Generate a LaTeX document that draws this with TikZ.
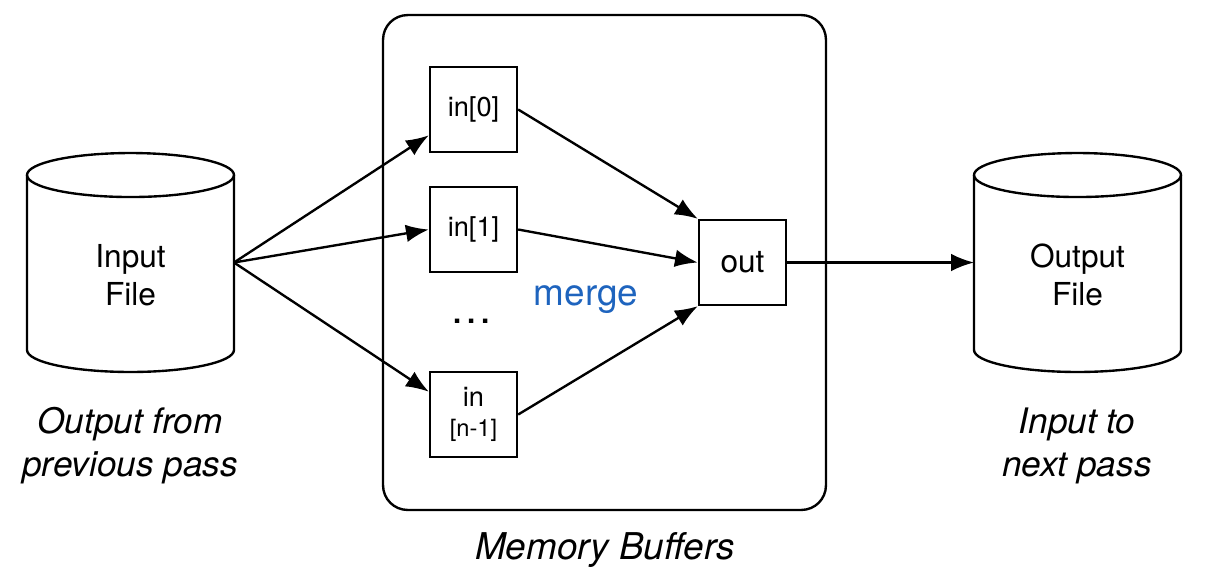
\documentclass[tikz,border=0pt]{standalone}
\usepackage{fontspec}
\setmainfont{TeX Gyre Heros}
\usetikzlibrary{arrows.meta}
\definecolor{mergeblue}{RGB}{30,100,190}
\tikzset{
  buf/.style={draw, line width=1.35pt, minimum width=1.74cm, minimum height=1.7cm, inner sep=0pt, align=center, font=\fontsize{15.5}{18}\selectfont},
  disk/.style={minimum width=4.14cm, minimum height=4.38cm, inner sep=0pt, outer sep=0pt},
  disktext/.style={align=center, font=\fontsize{18}{21.6}\selectfont},
  note/.style={align=center, font=\fontsize{20}{24.5}\selectfont\itshape},
  flow/.style={->, line width=1.35pt}
}
\begin{document}
\begin{tikzpicture}[>={Latex[length=13pt,width=10pt]}, x=0.02cm, y=-0.02cm]
	\useasboundingbox (0,0) rectangle (1206,586);

	% memory buffers
	\node[draw, line width=1.35pt, rounded corners=14pt, minimum width=8.86cm, minimum height=9.9cm] (mem) at (604.5,262.5) {};
	\node[note, font=\fontsize{21}{25}\selectfont\itshape] (memlbl) at (605,550) {Memory Buffers};

	\node[buf] (in0) at (473.5,109.5) {in[0]};
	\node[buf] (in1) at (473.5,229.5) {in[1]};
	\node[buf] (inN) at (473.5,414.5) {in\\[-1pt]{\fontsize{13.5}{16}\selectfont [n-1]}};
	\node[buf, font=\fontsize{18}{21}\selectfont] (out) at (742.5,262.5) {out};

	\node[font=\fontsize{24}{28}\selectfont] (dots) at (472,321) {…};
	\node[text=mergeblue, font=\fontsize{21}{25}\selectfont] (merge) at (586,300) {merge};

	% files
	\node[disk] (inF) at (130.5,262.5) {};
	\node[disktext] (inFtxt) at (130.5,275) {Input\\File};
	\node[disk] (outF) at (1077.5,262.5) {};
	\node[disktext] (outFtxt) at (1077.5,275) {Output\\File};
	\foreach \f in {inF,outF}
	{
		\draw[line width=1.35pt] ([yshift=-0.44cm]\f.north west) -- ([yshift=0.44cm]\f.south west)
			arc (180:360:2.07cm and 0.44cm) -- ([yshift=-0.44cm]\f.north east);
		\draw[line width=1.35pt] ([yshift=-0.44cm]\f.north) ellipse (2.07cm and 0.44cm);
	}
	\node[note] (inlbl) at (130,446) {Output from\\previous pass};
	\node[note] (outlbl) at (1077,446) {Input to\\next pass};

	\draw[flow] (inF.east) -- (in0.210);
	\draw[flow] (inF.east) -- (in1.west);
	\draw[flow] (inF.east) -- (inN.153);

	\draw[flow] (in0.east) -- (out.north west);
	\draw[flow] (in1.east) -- (out.west);
	\draw[flow] (inN.east) -- (out.south west);

	\draw[flow] (out.east) -- (outF.west);
\end{tikzpicture}
\end{document}
